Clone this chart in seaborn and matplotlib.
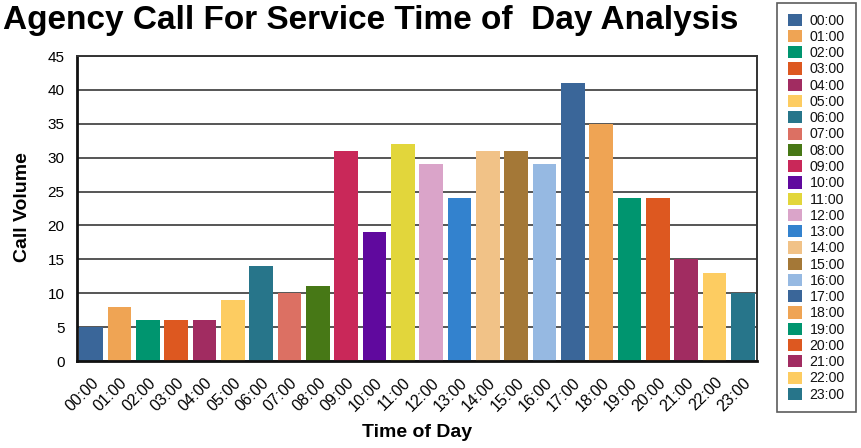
import matplotlib
matplotlib.use("Agg")
import matplotlib.pyplot as plt
import seaborn as sns
import pandas as pd
from matplotlib.patches import Patch

hours = [f"{h:02d}:00" for h in range(24)]
calls = [5, 8, 6, 6, 6, 9, 14, 10, 11, 31, 19, 32, 29, 24, 31, 31, 29, 41, 35, 24, 24, 15, 13, 10]
colors = ["#3A6699", "#EFA454", "#00956F", "#DD5820", "#A12C61", "#FDCC61",
          "#27758A", "#DC7063", "#477816", "#C92859", "#60099E", "#E2D63B",
          "#DAA4C9", "#3382CE", "#F1C287", "#A47837", "#96B9E2", "#3A6699",
          "#EFA454", "#00956F", "#DD5820", "#A12C61", "#FDCC61", "#27758A"]
title = "Agency Call For Service Time of  Day Analysis"
x_label = "Time of Day"
y_label = "Call Volume"
y_ticks = [0, 5, 10, 15, 20, 25, 30, 35, 40, 45]

sns.set_theme(style="white")
plt.rcParams["font.family"] = ["Liberation Sans", "DejaVu Sans"]
plt.rcParams["text.color"] = "black"

df = pd.DataFrame({"hour": hours, "calls": calls})

W, H = 861, 448
fig = plt.figure(figsize=(W / 100, H / 100), dpi=100)
ax = fig.add_axes([77 / W, (H - 361) / H, 680 / W, 305 / H])

sns.barplot(data=df, x="hour", y="calls", hue="hour", palette=colors,
            width=0.83, dodge=False, legend=False, saturation=1,
            linewidth=0, edgecolor="none", ax=ax)

ax.set_xlim(-0.5, 23.5)
ax.set_ylim(0, 45)
ax.set_yticks(y_ticks)
ax.yaxis.grid(True, color="#555555", linewidth=1.4)
ax.set_axisbelow(True)
ax.tick_params(axis="both", length=0, colors="black")
ax.tick_params(axis="y", pad=9, labelsize=11)
ax.tick_params(axis="x", pad=10, labelsize=11.5)
for lbl in ax.get_xticklabels():
    lbl.set_rotation(45)
    lbl.set_ha("right")
    lbl.set_rotation_mode("anchor")

for side in ["left", "bottom"]:
    ax.spines[side].set_color("#111111")
    ax.spines[side].set_linewidth(2)
for side in ["top", "right"]:
    ax.spines[side].set_color("#333333")
    ax.spines[side].set_linewidth(1.4)

ax.set_xlabel("")
ax.set_ylabel("")
fig.text(417 / W, 1 - 432 / H, x_label, ha="center", va="center",
         fontsize=14, fontweight="bold")
fig.text(23 / W, 1 - 207 / H, y_label, ha="center", va="center",
         rotation=90, fontsize=14, fontweight="bold")
fig.text(3 / W, 1 - 21 / H, title, ha="left", va="center",
         fontsize=24, fontweight="bold")

handles = [Patch(facecolor=c, edgecolor="none") for c in colors]
leg = fig.legend(handles, hours, loc="upper left",
                 bbox_to_anchor=(777 / W, 1 - 3 / H),
                 frameon=True, fancybox=False, fontsize=10.2,
                 handlelength=1.0, handleheight=0.95, handletextpad=0.56,
                 labelspacing=0.16, borderpad=0.75, borderaxespad=0)
leg.get_frame().set_edgecolor("#333333")
leg.get_frame().set_linewidth(1.2)
for t in leg.get_texts():
    t.set_color("#111111")

fig.savefig("out.png", dpi=100)
